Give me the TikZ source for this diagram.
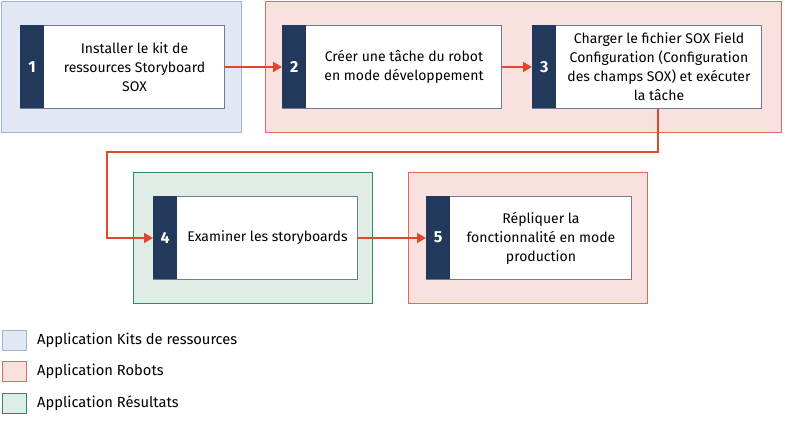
\documentclass[tikz,border=0pt]{standalone}
\usepackage{fontspec}
\setmainfont{Fira Sans}
\usetikzlibrary{arrows.meta,calc}
\definecolor{bluefill}{HTML}{E1E8F3}
\definecolor{blueline}{HTML}{9CB5DC}
\definecolor{redfill}{HTML}{F9E1DF}
\definecolor{redline}{HTML}{E26A5A}
\definecolor{greenfill}{HTML}{E0ECE6}
\definecolor{greenline}{HTML}{2F8A5C}
\definecolor{navy}{HTML}{23395B}
\definecolor{boxline}{HTML}{6E7C8F}
\definecolor{arrowred}{HTML}{E0472F}
\tikzset{
  x=1pt, y=-1pt,
  grp/.style={draw=#1line, fill=#1fill, line width=1.3pt, anchor=north west, minimum height=131, inner sep=0},
  stepbox/.style={draw=boxline, fill=white, line width=1pt, anchor=north west, minimum height=83, inner sep=0},
  barbox/.style={fill=navy, text=white, font=\bfseries\fontsize{16}{16}\selectfont, anchor=north west, minimum width=24, minimum height=83, inner sep=0},
  txt/.style={align=center, font=\fontsize{14}{19}\selectfont, text=black, inner sep=0},
  arr/.style={draw=arrowred, line width=1.8pt, -{Triangle[length=9pt,width=10pt]}},
  leg/.style={draw=#1line, fill=#1fill, line width=1.2pt, anchor=north west, minimum width=24, minimum height=20, inner sep=0},
  legtxt/.style={anchor=west, font=\fontsize{14.7}{16}\selectfont, inner sep=0},
}
\begin{document}
\begin{tikzpicture}
\useasboundingbox (0,0) rectangle (785,422);
% groups
\node[grp=blue, minimum width=240] (g1) at (1,1) {};
\node[grp=red, minimum width=516] (g2) at (265,1) {};
\node[grp=green, minimum width=239] (g3) at (133,172) {};
\node[grp=red, minimum width=239] (g4) at (408,172) {};
% steps
\node[stepbox, minimum width=204] (s1) at (20,25) {};
\node[barbox] (b1) at (s1.north west) {1};
\node[txt] (t1) at ($(s1.center)+(12,0)$) {Installer le kit de\\ressources Storyboard\\SOX};
\node[stepbox, minimum width=219] (s2) at (282,25) {};
\node[barbox] (b2) at (s2.north west) {2};
\node[txt] (t2) at ($(s2.center)+(12,0)$) {Créer une tâche du robot\\en mode développement};
\node[stepbox, minimum width=229] (s3) at (532,25) {};
\node[barbox] (b3) at (s3.north west) {3};
\node[txt] (t3) at ($(s3.center)+(12,0)$) {Charger le fichier SOX Field\\Configuration (Configuration\\des champs SOX) et exécuter\\la tâche};
\node[stepbox, minimum width=204] (s4) at (153,196) {};
\node[barbox] (b4) at (s4.north west) {4};
\node[txt] (t4) at ($(s4.center)+(12,0)$) {Examiner les storyboards};
\node[stepbox, minimum width=205] (s5) at (426,196) {};
\node[barbox] (b5) at (s5.north west) {5};
\node[txt] (t5) at ($(s5.center)+(12,0)$) {Répliquer la\\fonctionnalité en mode\\production};
% connectors
\draw[arr] (s1.east) -- (s2.west);
\draw[arr] (s2.east) -- (s3.west);
\coordinate (c1) at (658,152);
\coordinate (c2) at (107,152);
\draw[arr] (s3.south -| c1) -- (c1) -- (c2) |- (s4.west);
\draw[arr] (s4.east) -- (s5.west);
% legend
\node[leg=blue] (l1) at (2,330) {};
\node[legtxt] (lt1) at (37,340) {Application Kits de ressources};
\node[leg=red] (l2) at (2,361) {};
\node[legtxt] (lt2) at (37,371) {Application Robots};
\node[leg=green] (l3) at (2,393) {};
\node[legtxt] (lt3) at (37,403) {Application Résultats};
\end{tikzpicture}
\end{document}
